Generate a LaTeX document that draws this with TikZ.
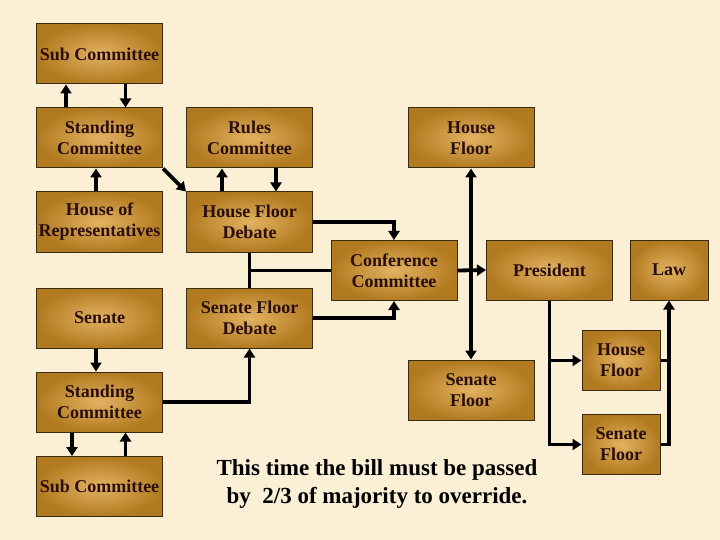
\documentclass[tikz,border=0pt]{standalone}
\usepackage{fontspec}
\setmainfont{Liberation Serif}
\usetikzlibrary{arrows.meta,calc}
\definecolor{bgc}{HTML}{FBEFD5}
\definecolor{boxin}{HTML}{E2B262}
\definecolor{boxout}{HTML}{B27A1F}
\definecolor{boxline}{HTML}{3A2A10}
\definecolor{boxtext}{HTML}{2A0E0E}
\begin{document}
\begin{tikzpicture}[x=1pt,y=-1pt,
  box/.style={draw=boxline, line width=1pt, inner color=boxin, outer color=boxout,
    minimum width=126pt, minimum height=60pt, inner sep=0pt, align=center,
    text=boxtext, font=\fontsize{18}{21}\selectfont\bfseries},
  smallbox/.style={box, minimum width=78pt},
  conn/.style={line width=3.8pt, draw=black},
  arr/.style={conn, -{Triangle[length=9pt,width=11pt]}},
  arrtwo/.style={conn, {Triangle[length=9pt,width=11pt]}-{Triangle[length=9pt,width=11pt]}},
  note/.style={font=\fontsize{23}{28}\selectfont\bfseries, text=black, anchor=base, inner sep=0pt}
]
\fill[bgc] (0,0) rectangle (720,540);
\useasboundingbox (0,0) rectangle (720,540);

% nodes
\node[box] (sub1)   at (99.5,54)   {Sub Committee};
\node[box] (stand1) at (99.5,138)  {Standing\\Committee};
\node[box] (rules)  at (249.5,138) {Rules\\Committee};
\node[box] (hfloor) at (471,138)   {House\\Floor};
\node[box] (hrep)   at (99.5,222)  {House of\\Representatives};
\node[box] (hfd)    at (249.5,222) {House Floor\\Debate};
\node[box] (conf)   at (394,270.5) {Conference\\Committee};
\node[box] (pres)   at (549.5,270) {President};
\node[smallbox] (law) at (669,270) {Law};
\node[box] (senate) at (99.5,318)  {Senate};
\node[box] (sfd)    at (249.5,318) {Senate Floor\\Debate};
\node[box] (sfloor) at (471,390)   {Senate\\Floor};
\node[smallbox] (hfloor2) at (621,360.5) {House\\Floor};
\node[smallbox] (sfloor2) at (621,444.5) {Senate\\Floor};
\node[box] (stand2) at (99.5,402)  {Standing\\Committee};
\node[box] (sub2)   at (99.5,486.5) {Sub Committee};

\node[note] (note1) at (377,475) {This time the bill must be passed};
\node[note] (note2) at (377,503) {by\ \ 2/3 of majority to override.};

% house side
\draw[arr] ([xshift=-33.5pt]stand1.north) -- ([xshift=-33.5pt]sub1.south);
\draw[arr] ([xshift=26pt]sub1.south) -- ([xshift=26pt]stand1.north);
\draw[arr] ([xshift=-3.5pt]hrep.north) -- ([xshift=-3.5pt]stand1.south);
\draw[arr] (stand1.south east) -- (hfd.north west);
\draw[arr] ([xshift=-27.5pt]hfd.north) -- ([xshift=-27.5pt]rules.south);
\draw[arr] ([xshift=26.5pt]rules.south) -- ([xshift=26.5pt]hfd.north);

% to conference
\draw[arr] (hfd.east) -| (conf.north);
\draw[arr] (sfd.east) -| (conf.south);
\draw[conn] (hfd.south) -- (sfd.north);
\draw[conn] (hfd.south |- conf.west) -- (conf.west);
\draw[arr] (conf.east) -- (pres.west);
\draw[arrtwo] (hfloor.south) -- (sfloor.north);

% president side
\draw[arr] (pres.south) |- (sfloor2.west);
\draw[arr] (pres.south |- hfloor2.west) -- (hfloor2.west);
\draw[arr] (sfloor2.east) -| (law.south);
\draw[conn] (hfloor2.east) -- (hfloor2.east -| law.south);

% senate side
\draw[arr] ([xshift=-3.5pt]senate.south) -- ([xshift=-3.5pt]stand2.north);
\draw[arr] ([xshift=-27.5pt]stand2.south) -- ([xshift=-27.5pt]sub2.north);
\draw[arr] ([xshift=26pt]sub2.north) -- ([xshift=26pt]stand2.south);
\draw[arr] (stand2.east) -| (sfd.south);
\end{tikzpicture}
\end{document}
